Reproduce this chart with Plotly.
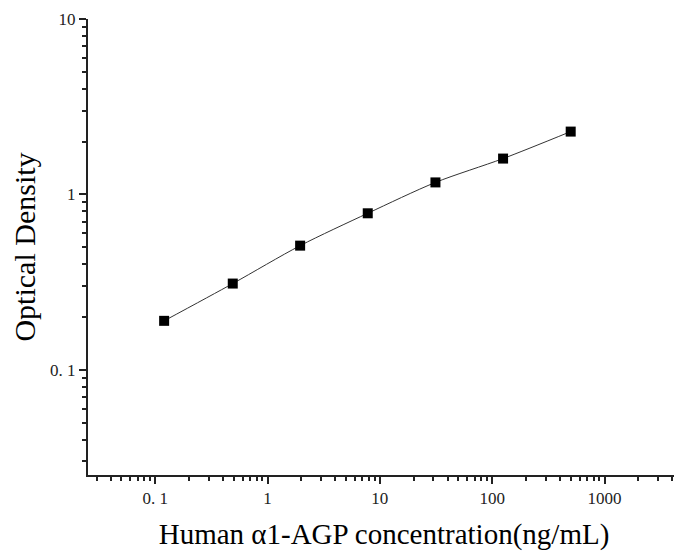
import plotly.graph_objects as go
import numpy as np

concentration = [0.12, 0.49, 1.95, 7.8, 31.25, 125, 500]
optical_density = [0.19, 0.31, 0.51, 0.78, 1.17, 1.60, 2.28]

x_tick_vals = [0.1, 1, 10, 100, 1000]
x_tick_text = ["0. 1", "1", "10", "100", "1000"]
y_tick_vals = [0.1, 1, 10]
y_tick_text = ["0. 1", "1", "10"]

x_minor = [m * 10.0**e for e in range(-2, 4) for m in range(2, 10)]
y_minor = [m * 10.0**e for e in range(-2, 1) for m in range(2, 10)]

fig = go.Figure()
fig.add_trace(go.Scatter(
    x=concentration, y=optical_density, mode="lines",
    line=dict(color="#333333", width=1, shape="spline", smoothing=0.8),
    showlegend=False, hoverinfo="skip"))
fig.add_trace(go.Scatter(
    x=concentration, y=optical_density, mode="markers",
    marker=dict(symbol="square", size=10, color="black"),
    showlegend=False))

axis_common = dict(
    type="log", showgrid=False, zeroline=False, showline=True,
    linecolor="#222222", linewidth=2, ticks="outside", ticklen=7,
    tickwidth=2, tickcolor="#222222", automargin=False,
    tickfont=dict(family="Liberation Serif", size=17, color="#222222"),
)

fig.update_layout(
    width=674, height=545,
    margin=dict(l=80, r=2, t=11, b=78),
    plot_bgcolor="white", paper_bgcolor="white",
    xaxis=dict(
        axis_common,
        range=[np.log10(0.0252), np.log10(4700)],
        tickmode="array", tickvals=x_tick_vals, ticktext=x_tick_text,
        minor=dict(ticks="outside", ticklen=4, tickwidth=2, tickcolor="#222222",
                   tickvals=x_minor),
        title=dict(text="Human \u03b11-AGP concentration(ng/mL)",
                   font=dict(family="Liberation Serif", size=29, color="black"),
                   standoff=16),
    ),
    yaxis=dict(
        axis_common,
        range=[np.log10(0.0251), 1],
        tickmode="array", tickvals=y_tick_vals, ticktext=y_tick_text,
        minor=dict(ticks="outside", ticklen=4, tickwidth=2, tickcolor="#222222",
                   tickvals=y_minor),
        title=dict(text="Optical Density",
                   font=dict(family="Liberation Serif", size=30, color="black"),
                   standoff=10),
    ),
)

fig.write_html("out.html")
